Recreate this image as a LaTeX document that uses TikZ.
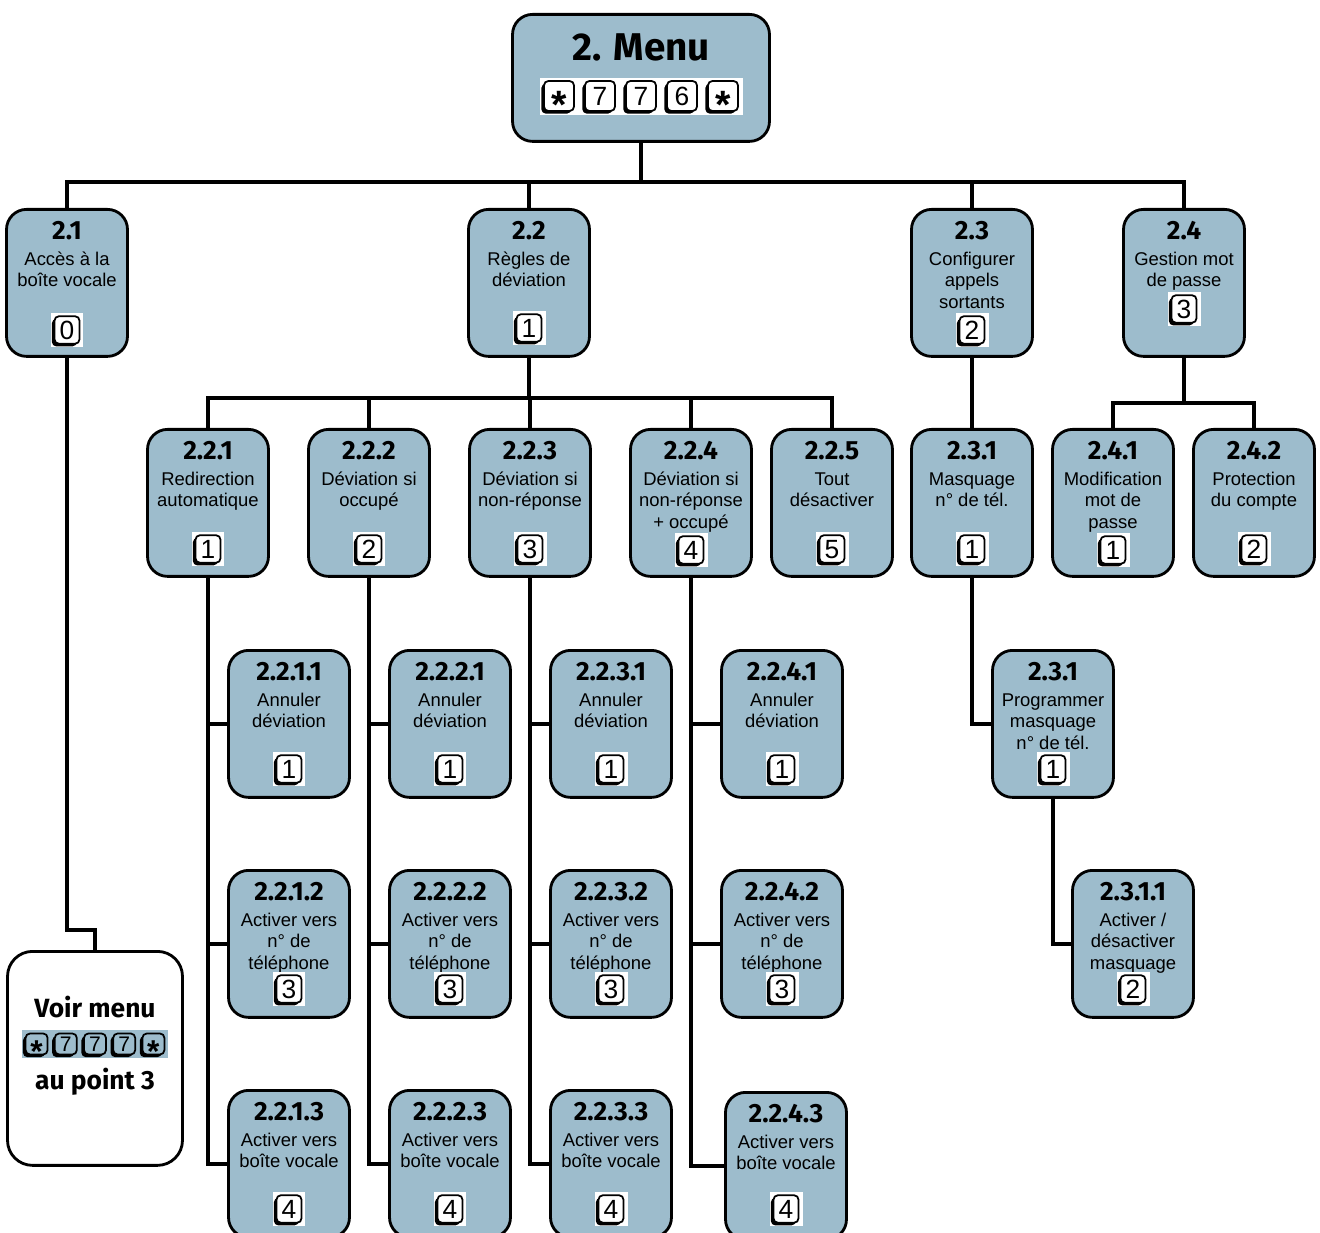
\documentclass[tikz,border=0pt]{standalone}
\usepackage{fontspec}
\setmainfont{Liberation Sans}
\newfontfamily\headfont{Fira Sans}
\usetikzlibrary{positioning,shadows}
\definecolor{boxblue}{RGB}{157,188,204}

\tikzset{
    menubox/.style={draw, line width=1.6pt, fill=boxblue, rounded corners=0.4cm,
        minimum width=2.42cm, minimum height=2.94cm, inner sep=0pt},
    boxnum/.style={font=\headfont\bfseries\fontsize{15}{18}\selectfont, inner sep=0pt},
    boxtext/.style={align=center, font=\fontsize{10.5}{12.2}\selectfont, inner sep=0pt},
    keybg/.style={fill=white, minimum width=0.66cm, minimum height=0.68cm, inner sep=0pt},
    keycap/.style={draw, line width=1pt, fill=white, rounded corners=2.5pt,
        minimum width=0.5cm, minimum height=0.55cm, inner sep=0pt,
        text height=10.8pt, text depth=0pt, font=\fontsize{15}{15}\selectfont,
        drop shadow={shadow xshift=-1.5pt, shadow yshift=-1.5pt, fill=black, opacity=1}},
    link/.style={line width=2pt}
}

\newcommand{\keystar}{\raisebox{-0.5em}{\scalebox{1.5}{\bfseries *}}}

% name, centre x, top y, number, text, key offset, key
\newcommand{\entrybox}[7]{%
    \node[menubox, anchor=north] (#1) at (#2,#3) {};
    \node[boxnum] (#1-num) at (#2,#3+23) {#4};
    \node[boxtext, anchor=north] (#1-txt) at (#2,#3+42) {\strut #5};
    \node[keybg] at (#2,#3+#6) {};
    \node[keycap] (#1-key) at (#2,#3+#6) {#7};
}

\begin{document}
\begin{tikzpicture}[x=0.02cm, y=-0.02cm]
    \clip (0,0) rectangle (1320,1233);

    % Draw main menu box
    \node[menubox, minimum width=5.14cm, minimum height=2.54cm, anchor=north] (m2) at (641,13) {};
    \node[font=\headfont\bfseries\fontsize{22}{24}\selectfont, inner sep=0pt] (m2-title) at (641,47) {2. Menu};
    \fill[white] (540,78) rectangle (743,115);
    \foreach \c [count=\i] in {\keystar,7,7,6,\keystar}
        \node[keycap, minimum width=0.6cm, minimum height=0.6cm] (m2-k\i) at ({641+(\i-3)*41},96) {\c};

    % Draw first level
    \entrybox{m21}{67}{208}{2.1}{Accès à la\\boîte vocale}{122}{0}
    \entrybox{m22}{529}{208}{2.2}{Règles de\\déviation}{120}{1}
    \entrybox{m23}{972}{208}{2.3}{Configurer\\appels\\sortants}{122}{2}
    \entrybox{m24}{1184}{208}{2.4}{Gestion mot\\de passe}{101}{3}

    % Draw second level
    \entrybox{m221}{208}{428}{2.2.1}{Redirection\\automatique}{121}{1}
    \entrybox{m222}{369}{428}{2.2.2}{Déviation si\\occupé}{121}{2}
    \entrybox{m223}{530}{428}{2.2.3}{Déviation si\\non-réponse}{121}{3}
    \entrybox{m224}{691}{428}{2.2.4}{Déviation si\\non-réponse\\+ occupé}{122}{4}
    \entrybox{m225}{832}{428}{2.2.5}{Tout\\désactiver}{121}{5}
    \entrybox{m231}{972}{428}{2.3.1}{Masquage\\n° de tél.}{121}{1}
    \entrybox{m241}{1113}{428}{2.4.1}{Modification\\mot de\\passe}{122}{1}
    \entrybox{m242}{1254}{428}{2.4.2}{Protection\\du compte}{121}{2}

    % Draw third level
    \entrybox{m2211}{289}{649}{2.2.1.1}{Annuler\\déviation}{120}{1}
    \entrybox{m2212}{289}{869}{2.2.1.2}{Activer vers\\n° de\\téléphone}{120}{3}
    \entrybox{m2213}{289}{1089}{2.2.1.3}{Activer vers\\boîte vocale}{120}{4}
    \entrybox{m2221}{450}{649}{2.2.2.1}{Annuler\\déviation}{120}{1}
    \entrybox{m2222}{450}{869}{2.2.2.2}{Activer vers\\n° de\\téléphone}{120}{3}
    \entrybox{m2223}{450}{1089}{2.2.2.3}{Activer vers\\boîte vocale}{120}{4}
    \entrybox{m2231}{611}{649}{2.2.3.1}{Annuler\\déviation}{120}{1}
    \entrybox{m2232}{611}{869}{2.2.3.2}{Activer vers\\n° de\\téléphone}{120}{3}
    \entrybox{m2233}{611}{1089}{2.2.3.3}{Activer vers\\boîte vocale}{120}{4}
    \entrybox{m2241}{782}{649}{2.2.4.1}{Annuler\\déviation}{120}{1}
    \entrybox{m2242}{782}{869}{2.2.4.2}{Activer vers\\n° de\\téléphone}{120}{3}
    \entrybox{m2243}{786}{1091}{2.2.4.3}{Activer vers\\boîte vocale}{118}{4}
    \entrybox{m231b}{1053}{649}{2.3.1}{Programmer\\masquage\\n° de tél.}{120}{1}
    \entrybox{m2311}{1133}{869}{2.3.1.1}{Activer /\\désactiver\\masquage}{120}{2}

    % Draw pointer to menu 3
    \node[draw, line width=1.6pt, fill=white, rounded corners=0.5cm, minimum width=3.5cm,
        minimum height=4.28cm, anchor=north] (voir) at (95,950) {};
    \node[boxnum] (voir-top) at (95,1007) {Voir menu};
    \fill[boxblue] (22,1030) rectangle (168,1058);
    \foreach \c [count=\i] in {\keystar,7,7,7,\keystar}
        \node[keycap, fill=boxblue, minimum width=0.44cm, minimum height=0.42cm, text height=8.6pt,
            font=\fontsize{12}{12}\selectfont] (voir-k\i) at ({95+(\i-3)*29.2},1044) {\c};
    \node[boxnum] (voir-bottom) at (95,1082) {au point 3};

    % Draw connectors
    \coordinate (bus1) at (641,182);
    \coordinate (bus2) at (529,398);
    \coordinate (bus3) at (1184,403);
    \draw[link] (m2.south) -- (bus1);
    \draw[link] (m21.north) |- (bus1) -| (m24.north);
    \draw[link] (m22.north) -- (m22.north |- bus1);
    \draw[link] (m23.north) -- (m23.north |- bus1);
    \draw[link] (m22.south) -- (bus2);
    \draw[link] (m221.north) |- (bus2) -| (m225.north);
    \foreach \p in {222,223,224}
        \draw[link] (m\p.north) -- (m\p.north |- bus2);
    \draw[link] (m24.south) -- (bus3);
    \draw[link] (m241.north) |- (bus3) -| (m242.north);
    \draw[link] (m23.south) -- (m231.north);
    \foreach \p in {221,222,223,224} {
        \draw[link] (m\p.south) |- (m\p3.west);
        \draw[link] (m\p1.west) -- (m\p1.west -| m\p.south);
        \draw[link] (m\p2.west) -- (m\p2.west -| m\p.south);
    }
    \draw[link] (m231.south) |- (m231b.west);
    \draw[link] (m231b.south) |- (m2311.west);
    \draw[link] (m21.south) -- ++(0,572) -| (voir.north);
\end{tikzpicture}
\end{document}
